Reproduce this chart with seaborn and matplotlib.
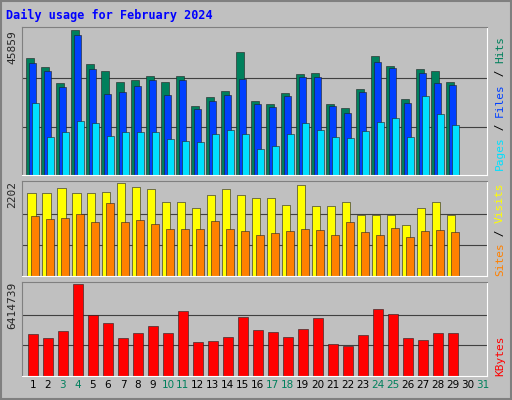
import numpy as np
import matplotlib
matplotlib.use("Agg")
import matplotlib.pyplot as plt
import seaborn as sns

days = list(range(1, 30))
hits = [37007, 34160, 29100, 45859, 35109, 32895, 29416, 30049, 31314, 29416,
        31314, 21825, 24671, 26569, 38905, 23406, 22457, 25937, 31946, 32263,
        22457, 21192, 27202, 37640, 34477, 24039, 33528, 32895, 29416]
files = [35426, 32895, 27834, 44282, 33528, 25620, 26253, 28151, 30049, 25304,
         30049, 20876, 23406, 25304, 30365, 22457, 21508, 24988, 30997, 30997,
         21825, 19611, 26253, 35742, 33844, 22774, 32263, 29100, 28467]
pages = [22774, 12019, 13601, 17080, 16448, 12336, 13601, 13601, 13601, 11387,
         10754, 10438, 12968, 14234, 12968, 8224, 9173, 12968, 16448, 14234,
         12019, 11703, 13917, 16764, 18029, 12019, 24988, 19294, 15815]
visits = [1962, 1962, 2082, 1962, 1962, 1986, 2202, 2106, 2058, 1747,
          1747, 1603, 1915, 2058, 1915, 1843, 1843, 1675, 2154, 1651,
          1651, 1747, 1436, 1436, 1436, 1197, 1603, 1747, 1436]
sites = [1412, 1340, 1364, 1460, 1268, 1723, 1268, 1316, 1220, 1101,
         1101, 1101, 1292, 1101, 1053, 981, 1005, 1053, 1101, 1077,
         981, 1268, 1029, 981, 1125, 933, 1053, 1077, 1029]
kbytes = [2890172, 2678696, 3101648, 6414739, 4229520, 3665584, 2678696, 2960664,
          3454108, 2960664, 4511488, 2396728, 2467220, 2749188, 4088536, 3172140,
          3031156, 2749188, 3242632, 4018044, 2255744, 2114760, 2819680, 4652472,
          4300012, 2678696, 2537712, 2960664, 2960664]
weekend = [3, 4, 10, 11, 17, 18, 24, 25, 31]

C_HITS, C_FILES, C_PAGES = "#00805C", "#0040FF", "#00E0FF"
C_VISITS, C_SITES, C_KB = "#FFFF00", "#FF8000", "#FF0000"
BG = "#C0C0C0"

sns.set_style("white")
plt.rcParams["font.family"] = ["DejaVu Sans"]

fig = plt.figure(figsize=(5.12, 4.0), dpi=100, facecolor=BG)
d = np.array(days)

def panel(rect, top):
    ax = fig.add_axes(rect, facecolor=BG)
    ax.set_xlim(0.27, 31.27)
    ax.set_ylim(0, top * 1.02)
    for y in (top / 3, top * 2 / 3):
        ax.axhline(y, color="#404040", lw=0.8, zorder=0)
    for s in ("top", "left"):
        ax.spines[s].set_color("#808080")
    for s in ("bottom", "right"):
        ax.spines[s].set_color("white")
    ax.set_yticks([])
    ax.set_xticks([])
    return ax

kw = dict(edgecolor="#202020", linewidth=0.4, align="center")
ax1 = panel([0.043, 0.5625, 0.908, 0.37], max(hits))
ax1.bar(d - 0.2, hits, width=0.5, color=C_HITS, **kw)
ax1.bar(d - 0.02, files, width=0.5, color=C_FILES, **kw)
ax1.bar(d + 0.18, pages, width=0.5, color=C_PAGES, **kw)

ax2 = panel([0.043, 0.31, 0.908, 0.2375], max(visits))
ax2.bar(d - 0.12, visits, width=0.58, color=C_VISITS, **kw)
ax2.bar(d + 0.12, sites, width=0.55, color=C_SITES, **kw)

ax3 = panel([0.043, 0.06, 0.908, 0.235], max(kbytes))
ax3.bar(d, kbytes, width=0.62, color=C_KB, **kw)
ax3.set_xticks(range(1, 32))
ax3.set_xticklabels([str(i) for i in range(1, 32)], fontsize=7.5)
ax3.tick_params(axis="x", length=0, pad=3)
for lab, i in zip(ax3.get_xticklabels(), range(1, 32)):
    lab.set_color(C_HITS if i in weekend else "black")

fig.text(6 / 512, 1 - 15 / 400, "Daily usage for February 2024", color="#0000FF",
         fontweight="bold", family="DejaVu Sans Mono", fontsize=8.5, va="center")

mono = dict(family="DejaVu Sans Mono", fontsize=8, rotation=90, ha="center", va="bottom")
for top_px, val in ((30, max(hits)), (181, max(visits)), (282, max(kbytes))):
    fig.text(12 / 512, 1 - top_px / 400, str(val), family="DejaVu Sans Mono",
             fontsize=8, rotation=90, ha="center", va="top")

def side(bottom_px, parts):
    y = bottom_px
    for txt, col in parts:
        fig.text(500 / 512, 1 - y / 400, txt, color=col, **mono)
        y -= 6.67 * len(txt)

side(170, [("Pages", C_PAGES), (" / ", "black"), ("Files", C_FILES),
           (" / ", "black"), ("Hits", C_HITS)])
side(276, [("Sites", C_SITES), (" / ", "black"), ("Visits", C_VISITS)])
side(376, [("KBytes", C_KB)])

fig.patches.append(plt.Rectangle((0.002, 0.002), 0.996, 0.996, transform=fig.transFigure,
                                 fill=False, edgecolor="#808080", lw=1.5))
fig.savefig("out.png", dpi=100, facecolor=BG)
